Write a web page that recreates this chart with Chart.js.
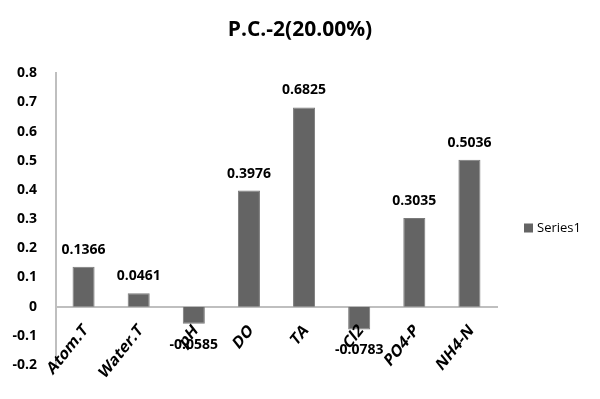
<!DOCTYPE html>
<html>
<head>
<meta charset="utf-8">
<script src="https://cdn.jsdelivr.net/npm/chart.js@4/dist/chart.umd.min.js"></script>
<style>
  html, body { margin: 0; padding: 0; background: #fff; }
  #wrap { width: 600px; height: 399px; }
</style>
</head>
<body>
<div id="wrap"><canvas id="pcChart"></canvas></div>
<script>
const categories = ['Atom.T', 'Water.T', 'pH', 'DO', 'TA', 'Cl2', 'PO4-P', 'NH4-N'];
const series1 = [0.1366, 0.0461, -0.0585, 0.3976, 0.6825, -0.0783, 0.3035, 0.5036];
const yMin = -0.2, yMax = 0.8, yStep = 0.1;

const FONT = '"Open Sans", "DejaVu Sans", sans-serif';
Chart.defaults.font.family = FONT;
Chart.defaults.color = '#000';

// value labels above positive bars, below negative ones (like Excel's outside end)
const valueLabels = {
    id: 'valueLabels',
    afterDatasetsDraw(chart) {
        const ctx = chart.ctx;
        const meta = chart.getDatasetMeta(0);
        ctx.save();
        ctx.font = 'bold 14px ' + FONT;
        ctx.fillStyle = '#000';
        ctx.textAlign = 'center';
        meta.data.forEach((bar, i) => {
            const v = series1[i];
            if (v >= 0) {
                ctx.textBaseline = 'alphabetic';
                ctx.fillText(v.toFixed(4), bar.x, bar.y - 13);
            } else {
                ctx.textBaseline = 'top';
                ctx.fillText(v.toFixed(4), bar.x, bar.y + 14);
            }
        });
        ctx.restore();
    }
};

// category labels hang off the zero line, slanted and a bit stretched
// vertically like the original picture
const slantLabels = {
    id: 'slantLabels',
    afterDraw(chart) {
        const ctx = chart.ctx;
        const xs = chart.scales.x;
        const y0 = chart.scales.y.getPixelForValue(0);
        ctx.save();
        ctx.font = 'bold 14px ' + FONT;
        ctx.fillStyle = '#000';
        ctx.textAlign = 'right';
        ctx.textBaseline = 'middle';
        categories.forEach((c, i) => {
            ctx.save();
            ctx.translate(xs.getPixelForTick(i) + 2, y0 + 21);
            ctx.scale(1, 1.25);
            ctx.rotate(-Math.PI / 4);
            ctx.fillText(c, 0, 0);
            ctx.restore();
        });
        ctx.restore();
    }
};

// small legend on the right, from the dataset itself
const sideLegend = {
    id: 'sideLegend',
    afterDraw(chart) {
        const ctx = chart.ctx;
        const ds = chart.data.datasets[0];
        const lx = chart.chartArea.right + 27;
        const ly = 228;
        ctx.save();
        ctx.fillStyle = ds.backgroundColor;
        ctx.fillRect(lx, ly - 4.5, 9, 9);
        ctx.font = '13px ' + FONT;
        ctx.fillStyle = '#000';
        ctx.textAlign = 'left';
        ctx.textBaseline = 'middle';
        ctx.fillText(ds.label, lx + 13, ly);
        ctx.restore();
    }
};

new Chart(document.getElementById('pcChart'), {
    type: 'bar',
    data: {
        labels: categories,
        datasets: [{
            label: 'Series1',
            data: series1,
            backgroundColor: '#646464',
            borderColor: '#7a7a7a',
            borderWidth: 1,
            barPercentage: 0.4,
            categoryPercentage: 1.0
        }]
    },
    options: {
        responsive: true,
        maintainAspectRatio: false,
        animation: false,
        layout: { padding: { left: 0, right: 0, top: 0, bottom: 34 } },
        scales: {
            x: {
                position: { y: 0 },
                grid: { display: false },
                border: { color: '#bfbfbf', width: 2 },
                ticks: { display: false }
            },
            y: {
                min: yMin,
                max: yMax,
                grid: { display: false },
                border: { color: '#bfbfbf', width: 2 },
                afterFit: (s) => { s.width = 56; },
                ticks: {
                    stepSize: yStep,
                    padding: 11,
                    color: '#000',
                    font: { size: 14, weight: 'bold' },
                    callback: (v) => String(Number(v.toFixed(1)))
                }
            },
            // empty right-hand gutter that holds the legend
            gutter: {
                type: 'linear',
                position: 'right',
                grid: { display: false },
                border: { display: false },
                ticks: { display: false },
                afterFit: (s) => { s.width = 103; }
            }
        },
        plugins: {
            title: {
                display: true,
                text: 'P.C.-2(20.00%)',
                color: '#000',
                font: { size: 21, weight: 'bold' },
                padding: { top: 17, bottom: 31 }
            },
            legend: { display: false },
            tooltip: { enabled: false }
        }
    },
    plugins: [valueLabels, slantLabels, sideLegend]
});
</script>
</body>
</html>
